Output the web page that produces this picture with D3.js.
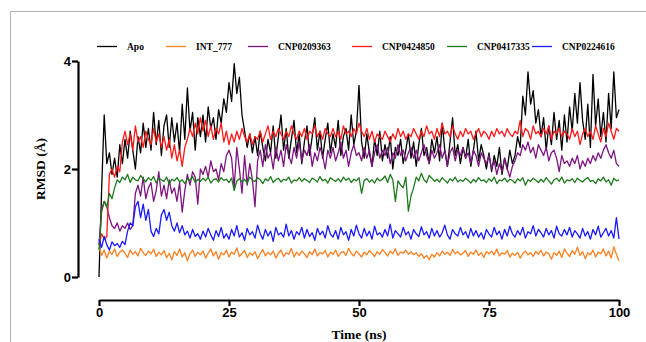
<!DOCTYPE html>
<html>
<head>
<meta charset="utf-8">
<script src="https://cdn.jsdelivr.net/npm/d3@7/dist/d3.min.js"></script>
<style>
  html, body { margin: 0; padding: 0; background: #fff; }
  svg { display: block; }
</style>
</head>
<body>
<svg id="chart" width="646" height="342"></svg>
<script>
// time axis: one sample every 0.5 ns, 0..100
const timeStep = 0.5;
const xTicks = [0, 25, 50, 75, 100];
const yTicks = [0, 2, 4];

const seriesNames = ["Apo", "INT_777", "CNP0209363", "CNP0424850", "CNP0417335", "CNP0224616"];
const seriesColors = ["#000000", "#ff7f1e", "#7d1480", "#ff1a1a", "#1f7a1f", "#1a1aff"];

const apo = [
  0.00, 1.60, 3.00, 2.10, 2.30, 1.90, 2.20, 1.85, 2.45, 2.10,
  2.55, 2.20, 2.70, 2.35, 2.00, 2.60, 2.30, 2.85, 2.40, 2.75,
  2.35, 3.05, 2.45, 2.90, 2.25, 2.80, 3.00, 2.40, 2.95, 2.50,
  2.85, 2.30, 3.20, 2.55, 3.50, 2.70, 3.05, 2.35, 2.95, 2.60,
  3.00, 2.50, 3.15, 2.75, 2.95, 2.55, 3.10, 2.85, 3.30, 3.05,
  3.60, 3.25, 3.95, 3.40, 3.70, 3.00, 2.70, 2.40, 2.65, 2.30,
  2.60, 2.25, 2.70, 2.40, 2.15, 2.55, 2.30, 2.80, 2.20, 2.60,
  3.00, 2.35, 2.75, 2.20, 2.55, 2.90, 2.30, 2.65, 2.10, 2.50,
  2.80, 2.25, 2.60, 2.95, 2.35, 2.70, 2.20, 2.55, 2.85, 2.30,
  2.65, 2.40, 2.90, 2.25, 2.60, 2.75, 2.35, 3.00, 2.45, 2.70,
  3.55, 2.50, 2.20, 2.65, 2.30, 2.05, 2.55, 2.25, 2.70, 2.15,
  2.45, 2.20, 2.60, 2.00, 2.40, 2.25, 2.55, 2.10, 2.35, 2.65,
  2.20, 2.50, 2.05, 2.45, 2.75, 2.25, 2.40, 2.10, 2.55, 2.30,
  2.60, 2.15, 2.85, 2.35, 2.05, 2.50, 2.95, 2.25, 2.45, 2.10,
  2.40, 2.20, 2.55, 2.05, 2.35, 2.70, 2.15, 2.45, 2.25, 2.00,
  2.30, 1.95, 2.25, 2.05, 2.40, 1.90, 2.20, 2.00, 2.35, 2.10,
  2.25, 2.60, 2.40, 3.35, 3.00, 3.80, 3.20, 3.45, 2.85, 3.10,
  2.60, 2.95, 2.35, 2.80, 2.45, 3.05, 2.55, 2.90, 2.35, 3.00,
  2.50, 3.15, 2.70, 3.40, 2.85, 3.60, 2.90, 2.55, 3.20, 2.40,
  3.75, 2.80, 3.30, 2.60, 3.05, 2.50, 3.40, 2.75, 3.80, 2.95,
  3.10
];

const int777 = [
  0.55, 0.40, 0.50, 0.35, 0.48, 0.42, 0.52, 0.38, 0.46, 0.50,
  0.44, 0.36, 0.50, 0.42, 0.47, 0.39, 0.53, 0.45, 0.40, 0.48,
  0.43, 0.51, 0.38, 0.46, 0.41, 0.49, 0.36, 0.44, 0.32, 0.47,
  0.40, 0.52, 0.37, 0.45, 0.30, 0.43, 0.50, 0.38, 0.46, 0.41,
  0.48, 0.35, 0.44, 0.52, 0.39, 0.47, 0.33, 0.45, 0.41, 0.50,
  0.37, 0.46, 0.42, 0.54, 0.38, 0.44, 0.49, 0.36, 0.45, 0.40,
  0.47, 0.34, 0.43, 0.51, 0.39, 0.46, 0.41, 0.48, 0.35, 0.44,
  0.50, 0.38, 0.45, 0.42, 0.53, 0.37, 0.46, 0.40, 0.48, 0.43,
  0.36, 0.47, 0.41, 0.52, 0.39, 0.45, 0.43, 0.49, 0.37, 0.46,
  0.42, 0.50, 0.38, 0.45, 0.47, 0.40, 0.53, 0.44, 0.39, 0.48,
  0.43, 0.37, 0.46, 0.41, 0.49, 0.44, 0.38, 0.47, 0.42, 0.51,
  0.45, 0.39, 0.48, 0.43, 0.52, 0.40, 0.46, 0.44, 0.50, 0.42,
  0.47, 0.41, 0.45, 0.38, 0.43, 0.35, 0.40, 0.32, 0.42, 0.37,
  0.45, 0.39, 0.48, 0.42, 0.46, 0.40, 0.51, 0.43, 0.47, 0.41,
  0.44, 0.49, 0.38, 0.46, 0.42, 0.50, 0.40, 0.45, 0.36, 0.47,
  0.43, 0.48, 0.41, 0.52, 0.39, 0.45, 0.42, 0.49, 0.37, 0.44,
  0.40, 0.46, 0.35, 0.43, 0.48, 0.41, 0.45, 0.38, 0.47, 0.42,
  0.50, 0.39, 0.46, 0.43, 0.33, 0.45, 0.40, 0.48, 0.36, 0.52,
  0.44, 0.38, 0.49, 0.42, 0.55, 0.40, 0.47, 0.34, 0.45, 0.41,
  0.50, 0.37, 0.46, 0.43, 0.52, 0.39, 0.48, 0.35, 0.56, 0.42,
  0.30
];

const cnp0209363 = [
  0.60, 1.25, 1.40, 1.30, 1.10, 0.95, 0.90, 1.00, 0.85, 0.95,
  0.90, 1.00, 0.88, 0.95, 1.55, 1.70, 1.50, 1.85, 1.45, 1.65,
  1.75, 1.40, 1.60, 1.95, 1.50, 1.70, 1.45, 1.80, 1.55, 1.65,
  1.40, 1.75, 1.20, 1.60, 1.90, 1.70, 1.95, 1.85, 1.35, 2.00,
  1.90, 2.05, 1.85, 2.15, 1.95, 2.00, 1.80, 2.10, 1.95, 2.25,
  2.35, 2.20, 1.65, 2.40, 2.00, 1.55, 2.25, 1.70, 2.10, 1.80,
  1.30, 2.15, 2.35, 2.05, 2.45, 2.20, 2.30, 2.00, 2.40, 2.15,
  2.35, 2.05, 2.45, 2.25, 2.10, 2.40, 2.20, 2.50, 2.15, 2.35,
  2.25, 2.45, 2.05, 2.30, 2.15, 2.40, 2.25, 2.00, 2.35, 2.20,
  2.40, 2.15, 2.30, 2.50, 2.20, 2.35, 2.05, 2.30, 2.45, 2.25,
  2.30, 2.15, 2.40, 2.20, 2.35, 2.05, 2.30, 2.45, 2.20, 2.35,
  2.25, 2.40, 2.10, 2.30, 2.20, 2.45, 2.25, 2.35, 2.15, 2.30,
  2.40, 2.20, 2.35, 2.15, 2.30, 2.45, 2.25, 2.10, 2.35, 2.20,
  2.30, 2.45, 2.20, 2.35, 2.05, 2.30, 2.40, 2.15, 2.35, 2.25,
  2.40, 2.20, 2.30, 2.10, 2.35, 2.25, 2.05, 2.30, 2.20, 2.10,
  2.25, 2.00, 2.15, 1.90, 2.10, 1.95, 2.20, 2.00, 1.85, 2.05,
  2.15, 2.30, 2.25, 2.45, 2.35, 2.50, 2.30, 2.40, 2.20, 2.45,
  2.35, 2.25, 2.40, 2.15, 2.30, 2.35, 2.20, 1.95, 2.25, 2.10,
  2.15, 2.05, 2.20, 2.10, 2.25, 2.00, 2.15, 2.05, 2.20, 2.10,
  2.25, 2.15, 2.30, 2.20, 2.35, 2.45, 2.30, 2.20, 2.35, 2.10,
  2.05
];

const cnp0424850 = [
  0.60, 0.80, 0.70, 0.75, 1.90, 2.00, 1.85, 2.05, 1.95, 2.50,
  2.70, 2.45, 2.65, 2.35, 2.80, 2.50, 2.60, 2.40, 2.70, 2.55,
  2.45, 2.75, 2.50, 2.65, 2.40, 2.60, 2.35, 2.55, 2.20, 2.45,
  2.15, 2.35, 2.05, 2.40, 2.55, 2.75, 2.60, 2.85, 2.65, 2.95,
  2.70, 2.90, 2.60, 2.80, 2.55, 2.75, 2.65, 2.85, 2.50, 2.70,
  2.45, 2.65, 2.50, 2.70, 2.55, 2.75, 2.60, 2.50, 2.65, 2.45,
  2.60, 2.55, 2.70, 2.50, 2.65, 2.80, 2.55, 2.70, 2.60, 2.75,
  2.65, 2.55, 2.70, 2.60, 2.80, 2.65, 2.55, 2.70, 2.60, 2.75,
  2.55, 2.70, 2.65, 2.80, 2.60, 2.70, 2.55, 2.75, 2.65, 2.60,
  2.75, 2.60, 2.70, 2.55, 2.80, 2.65, 2.70, 2.60, 2.75, 2.65,
  2.85, 2.70, 2.60, 2.75, 2.55, 2.70, 2.50, 2.65, 2.60, 2.55,
  2.70, 2.60, 2.50, 2.65, 2.55, 2.75, 2.60, 2.70, 2.55, 2.65,
  2.60, 2.75, 2.65, 2.55, 2.70, 2.60, 2.80, 2.65, 2.70, 2.55,
  2.75, 2.60, 2.85, 2.65, 2.70, 2.60, 2.80, 2.65, 2.55, 2.70,
  2.60, 2.75, 2.65, 2.70, 2.55, 2.65, 2.75, 2.60, 2.70, 2.65,
  2.55, 2.70, 2.60, 2.75, 2.65, 2.70, 2.60, 2.75, 2.65, 2.60,
  2.70, 2.65, 2.90, 2.60, 2.75, 2.70, 2.55, 2.80, 2.65, 2.70,
  2.60, 2.75, 2.65, 2.80, 2.55, 2.70, 2.65, 2.75, 2.60, 2.70,
  2.65, 2.55, 2.75, 2.60, 2.70, 2.45, 2.65, 2.75, 2.60, 2.70,
  2.55, 2.80, 2.65, 2.50, 2.75, 2.60, 2.85, 2.70, 2.55, 2.75,
  2.70
];

const cnp0417335 = [
  0.50, 1.20, 1.40, 1.30, 1.55, 1.45, 1.65, 1.80, 1.75, 1.85,
  1.80, 1.90, 1.75, 1.85, 1.80, 1.78, 1.88, 1.82, 1.76, 1.84,
  1.79, 1.86, 1.74, 1.83, 1.80, 1.77, 1.85, 1.72, 1.81, 1.78,
  1.84, 1.76, 1.80, 1.73, 1.82, 1.79, 1.86, 1.75, 1.81, 1.77,
  1.83, 1.78, 1.85, 1.74, 1.80, 1.82, 1.76, 1.84, 1.79, 1.81,
  1.75, 1.83, 1.60, 1.78, 1.82, 1.76, 1.81, 1.74, 1.85, 1.79,
  1.77, 1.84, 1.80, 1.73, 1.82, 1.78, 1.86, 1.75, 1.80, 1.83,
  1.76, 1.81, 1.79, 1.85, 1.74, 1.80, 1.78, 1.84, 1.77, 1.82,
  1.79, 1.75, 1.83, 1.80, 1.76, 1.86, 1.78, 1.81, 1.74, 1.84,
  1.80, 1.77, 1.82, 1.76, 1.85, 1.79, 1.83, 1.75, 1.81, 1.78,
  1.84, 1.55, 1.79, 1.82, 1.76, 1.80, 1.74, 1.83, 1.78, 1.81,
  1.87, 1.75, 1.90, 1.80, 1.40, 1.78, 1.70, 1.65, 1.85, 1.22,
  1.50, 1.65, 1.85, 1.78, 1.92, 1.80, 1.75, 1.88, 1.83, 1.77,
  1.81, 1.76, 1.84, 1.79, 1.74, 1.82, 1.78, 1.85, 1.76, 1.80,
  1.77, 1.83, 1.79, 1.74, 1.81, 1.76, 1.84, 1.78, 1.80, 1.75,
  1.82, 1.77, 1.85, 1.73, 1.80, 1.78, 1.83, 1.76, 1.81, 1.79,
  1.74, 1.82, 1.78, 1.84, 1.70, 1.80, 1.77, 1.83, 1.79, 1.75,
  1.81, 1.76, 1.84, 1.78, 1.72, 1.80, 1.83, 1.77, 1.85, 1.74,
  1.80, 1.78, 1.82, 1.75, 1.83, 1.79, 1.76, 1.81, 1.84, 1.77,
  1.79, 1.73, 1.82, 1.78, 1.85, 1.76, 1.80, 1.70, 1.83, 1.78,
  1.80
];

const cnp0224616 = [
  0.70, 0.55, 0.75, 0.60, 0.50, 0.65, 0.58, 0.62, 0.55, 0.66,
  0.60, 0.85, 1.00, 0.95, 1.30, 1.40, 1.10, 1.35, 1.05, 1.25,
  0.85, 0.75, 0.90, 0.80, 1.15, 1.25, 1.05, 1.20, 0.95, 0.85,
  1.00, 0.82, 0.95, 0.78, 0.85, 0.72, 0.88, 0.75, 0.80, 0.70,
  0.85, 0.74, 0.90, 0.78, 0.68, 0.86, 0.75, 0.92, 0.72, 0.80,
  0.70, 0.88, 0.76, 0.95, 0.74, 0.82, 0.68, 0.90, 0.78, 0.84,
  0.72, 0.96, 0.80, 0.70, 0.88, 0.76, 0.85, 0.66, 0.92, 0.78,
  0.82, 0.74, 0.98, 0.76, 0.86, 0.70, 0.84, 0.78, 0.92, 0.72,
  0.88, 0.75, 0.82, 0.68, 0.90, 0.78, 0.85, 0.72, 0.95, 0.80,
  0.74, 0.86, 0.70, 0.92, 0.78, 0.84, 0.68, 0.88, 0.76, 0.96,
  0.80, 0.72, 0.90, 0.76, 0.85, 0.70, 0.94, 0.78, 0.82, 0.74,
  0.88, 0.76, 0.98, 0.72, 0.86, 0.80, 0.74, 0.92, 0.78, 0.84,
  0.70, 0.88, 0.80, 0.75, 0.93, 0.78, 0.84, 0.72, 0.90, 0.76,
  0.86, 0.74, 0.82, 0.96, 0.78, 0.70, 0.88, 0.80, 0.76, 0.92,
  0.78, 0.84, 0.72, 0.90, 0.76, 0.86, 0.74, 0.82, 0.70, 0.88,
  0.80, 0.74, 0.92, 0.78, 0.85, 0.70, 0.88, 0.76, 0.94, 0.80,
  0.74, 0.86, 0.78, 0.92, 0.72, 0.84, 0.80, 0.95, 0.76, 0.88,
  0.82, 0.74, 0.90, 0.78, 0.86, 0.72, 0.94, 0.80, 0.76, 0.88,
  0.78, 0.92, 0.74, 0.86, 0.80, 0.72, 0.90, 0.76, 0.84, 0.70,
  0.88, 0.78, 0.94, 0.74, 0.82, 0.90, 0.76, 0.86, 0.72, 1.10,
  0.70
];

const seriesValues = [apo, int777, cnp0209363, cnp0424850, cnp0417335, cnp0224616];

// layout
const svg = d3.select("#chart");
const x = d3.scaleLinear().domain([0, 100]).range([99, 619]);
const y = d3.scaleLinear().domain([0, 4]).range([277, 61]);

// light frame of the source figure
svg.append("path")
  .attr("d", "M10.5,342 V11.5 H646")
  .attr("fill", "none")
  .attr("stroke", "#b4b4b4")
  .attr("stroke-width", 1);

const line = d3.line()
  .x((d, i) => x(i * timeStep))
  .y(d => y(d));

svg.append("g")
  .selectAll("path")
  .data(seriesValues)
  .join("path")
  .attr("d", line)
  .attr("fill", "none")
  .attr("stroke", (d, i) => seriesColors[i])
  .attr("stroke-width", 1.3)
  .attr("stroke-linejoin", "round");

// y axis
const yAxis = svg.append("g")
  .attr("transform", "translate(78,0)")
  .call(d3.axisLeft(y).tickValues(yTicks).tickFormat(d3.format("d")).tickSize(6).tickSizeOuter(0));
// x axis (offset below the plot)
const xAxis = svg.append("g")
  .attr("transform", "translate(0,300)")
  .call(d3.axisBottom(x).tickValues(xTicks).tickSize(6).tickSizeOuter(0));

[yAxis, xAxis].forEach(g => {
  g.select(".domain").attr("stroke", "#000").attr("stroke-width", 2.2);
  g.selectAll(".tick line").attr("stroke", "#000").attr("stroke-width", 2.2);
  g.selectAll(".tick text")
    .attr("fill", "#000")
    .style("font-family", "'Liberation Sans', Arial, sans-serif")
    .style("font-weight", "bold")
    .style("font-size", "13px");
});
yAxis.selectAll(".tick text").attr("x", -7);
xAxis.selectAll(".tick text").attr("y", 8);

// axis titles
svg.append("text")
  .attr("x", x(50))
  .attr("y", 339)
  .attr("text-anchor", "middle")
  .style("font-family", "'Liberation Serif', 'Times New Roman', serif")
  .style("font-weight", "bold")
  .style("font-size", "13.5px")
  .text("Time (ns)");

svg.append("text")
  .attr("transform", "translate(45," + y(2) + ") rotate(-90)")
  .attr("text-anchor", "middle")
  .style("font-family", "'Liberation Serif', 'Times New Roman', serif")
  .style("font-weight", "bold")
  .style("font-size", "13.5px")
  .text("RMSD (Å)");

// legend
const legendX = [97, 166, 248, 352, 447, 532];
const legend = svg.append("g")
  .selectAll("g")
  .data(seriesNames)
  .join("g")
  .attr("transform", (d, i) => `translate(${legendX[i]},46.5)`);

legend.append("line")
  .attr("x1", 0).attr("x2", 20)
  .attr("stroke", (d, i) => seriesColors[i])
  .attr("stroke-width", 1.3);

legend.append("text")
  .attr("x", 30)
  .attr("dy", "0.35em")
  .style("font-family", "'Liberation Serif', 'Times New Roman', serif")
  .style("font-weight", "bold")
  .style("font-size", "9.5px")
  .text(d => d);
</script>
</body>
</html>
